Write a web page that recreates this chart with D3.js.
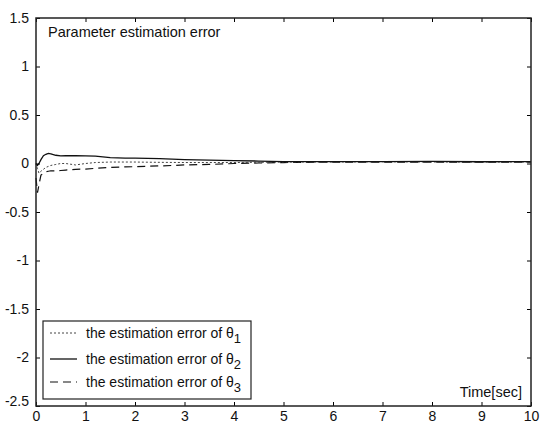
<!DOCTYPE html>
<meta charset="utf-8">
<head>
<style>
  body { margin: 0; background: #fff; }
  text { font-family: Arial, "Liberation Sans", sans-serif; fill: #111; }
</style>
</head>
<svg width="545" height="424"></svg>
<script src="https://cdn.jsdelivr.net/npm/d3@7/dist/d3.min.js"></script>
<script>

// time samples [sec]
var time = [0, 0.03, 0.06, 0.1, 0.15, 0.2, 0.25, 0.3, 0.4, 0.5, 0.6, 0.8, 1.0, 1.2, 1.5, 1.8, 2.0, 2.5, 3.0, 3.5, 4.0, 4.5, 5.0, 6.0, 7.0, 8.0, 9.0, 10.0];
// estimation errors
var err1 = [0, -0.05, -0.1, -0.08, -0.06, -0.04, -0.03, -0.02, -0.01, 0.0, 0.0, -0.015, 0.0, 0.01, 0.015, 0.015, 0.015, 0.012, 0.01, 0.01, 0.01, 0.012, 0.015, 0.015, 0.018, 0.015, 0.015, 0.015];
var err2 = [0, -0.02, 0.0, 0.04, 0.08, 0.095, 0.105, 0.1, 0.085, 0.078, 0.08, 0.08, 0.078, 0.075, 0.06, 0.055, 0.055, 0.05, 0.04, 0.035, 0.03, 0.025, 0.02, 0.02, 0.02, 0.022, 0.018, 0.02];
var err3 = [-0.15, -0.3, -0.22, -0.12, -0.1, -0.085, -0.08, -0.075, -0.075, -0.072, -0.068, -0.06, -0.057, -0.05, -0.04, -0.035, -0.033, -0.025, -0.015, -0.01, 0.0, 0.005, 0.01, 0.015, 0.015, 0.015, 0.015, 0.015];

var xTicks = [0, 1, 2, 3, 4, 5, 6, 7, 8, 9, 10];
var yTicks = [-2.5, -2, -1.5, -1, -0.5, 0, 0.5, 1, 1.5];
var legendNames = ["the estimation error of ", "the estimation error of ", "the estimation error of "];
var legendSubs = ["1", "2", "3"];

var svg = d3.select("svg");
var pLeft = 36, pRight = 531, pTop = 18, pBottom = 406;

var x = d3.scaleLinear().domain([0, 10]).range([pLeft, pRight]);
var y = d3.scaleLinear().domain([-2.5, 1.5]).range([pBottom, pTop]);

var styles = [
  { width: 1, dash: "2,2", color: "#444" },
  { width: 1.3, dash: null, color: "#111" },
  { width: 1.2, dash: "8,5", color: "#111" }
];

var line = d3.line()
  .x(function(d, i) { return x(time[i]); })
  .y(function(d) { return y(d); });

var g = svg.append("g");
[[err3, 2], [err1, 0], [err2, 1]].forEach(function(p) {
  var st = styles[p[1]];
  g.append("path")
    .attr("d", line(p[0]))
    .attr("fill", "none")
    .attr("stroke", st.color)
    .attr("stroke-width", st.width)
    .attr("stroke-dasharray", st.dash);
});

// plain hyphen like the original, not the unicode minus
var fmt = function(d) { return String(d); };

// axes: ticks inside on all four sides
svg.append("g")
  .attr("transform", "translate(0," + pBottom + ")")
  .call(d3.axisBottom(x).tickValues(xTicks).tickSize(-4).tickPadding(5).tickFormat(fmt))
  .call(function(a) { a.select(".domain").remove(); a.selectAll("text").attr("font-size", 14); });

svg.append("g")
  .attr("transform", "translate(0," + pTop + ")")
  .call(d3.axisTop(x).tickValues(xTicks).tickSize(-4).tickFormat(""))
  .call(function(a) { a.select(".domain").remove(); });

svg.append("g")
  .attr("transform", "translate(" + pLeft + ",0)")
  .call(d3.axisLeft(y).tickValues(yTicks).tickSize(-4).tickPadding(7).tickFormat(fmt))
  .call(function(a) {
    a.select(".domain").remove();
    a.selectAll("text").attr("font-size", 14)
      .attr("dy", function(d) { return d === -2.5 ? "-0.05em" : "0.32em"; });
  });

svg.append("g")
  .attr("transform", "translate(" + pRight + ",0)")
  .call(d3.axisRight(y).tickValues(yTicks).tickSize(-4).tickFormat(""))
  .call(function(a) { a.select(".domain").remove(); });

svg.append("rect")
  .attr("x", pLeft).attr("y", pTop)
  .attr("width", pRight - pLeft).attr("height", pBottom - pTop)
  .attr("fill", "none").attr("stroke", "#222").attr("stroke-width", 1.5);

svg.append("text")
  .attr("x", 48).attr("y", 37)
  .attr("font-size", 14.5)
  .text("Parameter estimation error");

svg.append("text")
  .attr("x", 522).attr("y", 397)
  .attr("text-anchor", "end")
  .attr("font-size", 14.5)
  .text("Time[sec]");

// legend
var lg = svg.append("g");
lg.append("rect")
  .attr("x", 43).attr("y", 321).attr("width", 208).attr("height", 78)
  .attr("fill", "#fff").attr("stroke", "#222").attr("stroke-width", 1.2);

var rowY = [333, 359, 382];
legendNames.forEach(function(name, i) {
  var st = styles[i];
  lg.append("line")
    .attr("x1", 50).attr("x2", 77)
    .attr("y1", rowY[i]).attr("y2", rowY[i])
    .attr("stroke", st.color).attr("stroke-width", st.width)
    .attr("stroke-dasharray", st.dash);
  var t = lg.append("text")
    .attr("x", 86).attr("y", rowY[i] + 5)
    .attr("font-size", 14);
  t.append("tspan").text(name + "\u03b8");
  t.append("tspan").attr("dy", 5).attr("font-size", 13).text(legendSubs[i]);
});

</script>
